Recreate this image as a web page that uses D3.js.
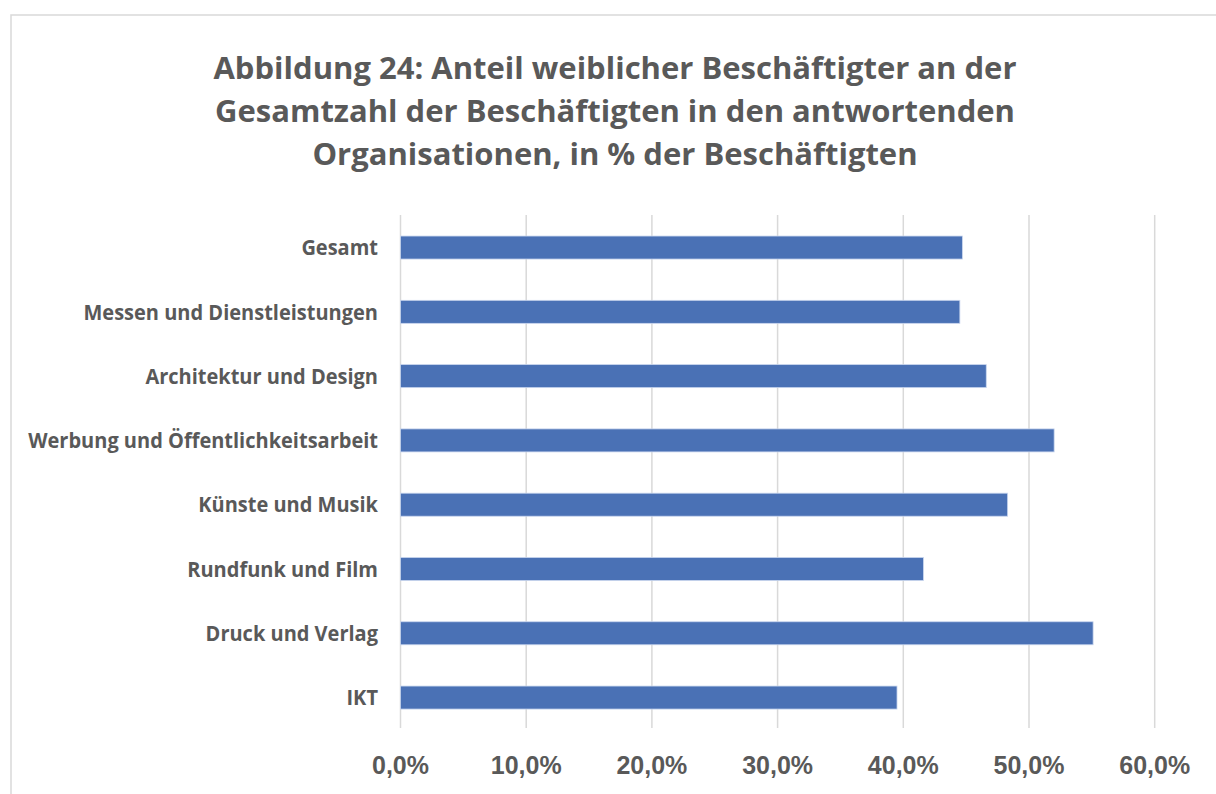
<!DOCTYPE html>
<html>
<head>
<meta charset="utf-8">
<script src="https://cdn.jsdelivr.net/npm/d3@7"></script>
<style>
  body { margin: 0; background: #fff; }
  svg { display: block; }
</style>
</head>
<body>
<div id="chart-area"></div>
<script>
// Data
const titleLines = [
    "Abbildung 24: Anteil weiblicher Beschäftigter an der",
    "Gesamtzahl der Beschäftigten in den antwortenden",
    "Organisationen, in % der Beschäftigten",
];
const categories = [
    "Gesamt",
    "Messen und Dienstleistungen",
    "Architektur und Design",
    "Werbung und Öffentlichkeitsarbeit",
    "Künste und Musik",
    "Rundfunk und Film",
    "Druck und Verlag",
    "IKT",
];
const shares = [0.447, 0.445, 0.466, 0.520, 0.483, 0.416, 0.551, 0.395];
const tickValues = [0, 0.1, 0.2, 0.3, 0.4, 0.5, 0.6];

const W = 1216;
const H = 794;
const textColor = "#595959";
const gridColor = "#d9d9d9";

const svg = d3
    .select("#chart-area")
    .append("svg")
    .attr("width", W)
    .attr("height", H);

svg.append("rect").attr("width", W).attr("height", H).attr("fill", "#fff");

// chart frame
svg.append("rect")
    .attr("x", 11)
    .attr("y", 15)
    .attr("width", W + 20)
    .attr("height", H + 20)
    .attr("fill", "none")
    .attr("stroke", gridColor)
    .attr("stroke-width", 1.5);

//Scales
const xScale = d3.scaleLinear().domain([0, 0.6]).range([400.5, 1154.7]);
const yScale = d3
    .scaleBand()
    .domain(categories)
    .range([215.4, 729.7])
    .paddingInner(0.642)
    .paddingOuter(0.321);

// squeeze text horizontally a bit (Calibri-like look)
const squeeze = (factor) => (sel) => {
    sel.each(function () {
        const len = this.getComputedTextLength();
        d3.select(this)
            .attr("textLength", len * factor)
            .attr("lengthAdjust", "spacingAndGlyphs");
    });
};

//Title
svg.append("g")
    .selectAll("text")
    .data(titleLines)
    .join("text")
    .attr("x", 615)
    .attr("y", (d, i) => 78.5 + i * 43.4)
    .attr("text-anchor", "middle")
    .attr("font-family", "'Open Sans', sans-serif")
    .attr("font-weight", "bold")
    .attr("font-size", "31px")
    .attr("fill", textColor)
    .text((d) => d);

//Gridlines
svg.append("g")
    .selectAll("line")
    .data(tickValues)
    .join("line")
    .attr("x1", (d) => xScale(d))
    .attr("x2", (d) => xScale(d))
    .attr("y1", 215)
    .attr("y2", 728)
    .attr("stroke", gridColor)
    .attr("stroke-width", 1.5);

//Bars
svg.append("g")
    .selectAll("rect")
    .data(categories)
    .join("rect")
    .attr("x", xScale(0))
    .attr("y", (d) => yScale(d))
    .attr("width", (d, i) => xScale(shares[i]) - xScale(0))
    .attr("height", yScale.bandwidth())
    .attr("fill", "#4a71b5")
    .attr("stroke", "#c9d6ee")
    .attr("stroke-width", 0.8);

//Category labels
svg.append("g")
    .selectAll("text")
    .data(categories)
    .join("text")
    .attr("x", 378)
    .attr("y", (d) => yScale(d) + yScale.bandwidth() / 2 + 7.8)
    .attr("text-anchor", "end")
    .attr("font-family", "'Open Sans', sans-serif")
    .attr("font-weight", "bold")
    .attr("font-size", "21.5px")
    .attr("fill", textColor)
    .text((d) => d)
    .call(squeeze(0.93));

//X tick labels
const fmt = (v) => d3.format(".1f")(v * 100).replace(".", ",") + "%";
svg.append("g")
    .selectAll("text")
    .data(tickValues)
    .join("text")
    .attr("x", (d) => xScale(d))
    .attr("y", 774)
    .attr("text-anchor", "middle")
    .attr("font-family", "'Liberation Sans Narrow', 'Liberation Sans', sans-serif")
    .attr("font-weight", "bold")
    .attr("font-size", "25px")
    .attr("fill", textColor)
    .text(fmt);
</script>
</body>
</html>
